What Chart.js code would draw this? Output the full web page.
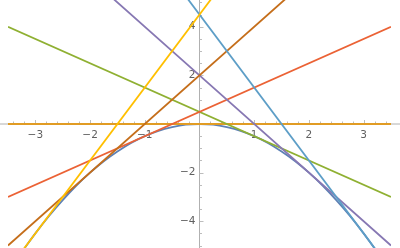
<!DOCTYPE html>
<html lang="en">
<head>
  <meta charset="UTF-8">
  <title>tangent lines</title>
  <style>
    html, body { margin: 0; padding: 0; background: #fff; }
    #wrap { width: 400px; height: 248px; }
  </style>
</head>
<body>
  <div id="wrap"><canvas id="myChart"></canvas></div>
  <script src="https://cdn.jsdelivr.net/npm/chart.js"></script>
  <script>
    // curve y = -x^2/2
    const curveX = [-3.5, -3.25, -3, -2.75, -2.5, -2.25, -2, -1.75, -1.5, -1.25, -1, -0.75, -0.5, -0.25, 0,
                    0.25, 0.5, 0.75, 1, 1.25, 1.5, 1.75, 2, 2.25, 2.5, 2.75, 3, 3.25, 3.5];
    const curveY = [-6.13, -5.28, -4.5, -3.78, -3.13, -2.53, -2, -1.53, -1.13, -0.78, -0.5, -0.28, -0.13, -0.03, 0,
                    -0.03, -0.13, -0.28, -0.5, -0.78, -1.13, -1.53, -2, -2.53, -3.13, -3.78, -4.5, -5.28, -6.13];

    // tangent lines, endpoints at the plot's left and right edges
    const lineX = [-3.5, 3.5];
    const lineY0 = [0, 0];
    const lineY1 = [4, -3];
    const lineYm1 = [-3, 4];
    const lineY2 = [9, -5];
    const lineYm2 = [-5, 9];
    const lineY3 = [15, -6];
    const lineYm3 = [-6, 15];

    const xTicks = [-3, -2, -1, 1, 2, 3];
    const yTicks = [-4, -2, 2, 4];

    const pts = (xs, ys) => xs.map((x, i) => ({ x: x, y: ys[i] }));

    // Mathematica plot order, first one at the bottom
    const series = [
      { data: pts(curveX, curveY), color: '#5E81B5' },
      { data: pts(lineX, lineY0), color: '#E19C24' },
      { data: pts(lineX, lineY1), color: '#8FB032' },
      { data: pts(lineX, lineYm1), color: '#EB6235' },
      { data: pts(lineX, lineY2), color: '#8778B3' },
      { data: pts(lineX, lineYm2), color: '#C56E1A' },
      { data: pts(lineX, lineY3), color: '#5D9EC7' },
      { data: pts(lineX, lineYm3), color: '#FFBF00' }
    ];

    const datasets = series.map((s, i) => ({
      data: s.data,
      showLine: true,
      borderColor: s.color,
      borderWidth: 1.8,
      pointRadius: 0,
      cubicInterpolationMode: 'monotone',
      order: series.length - i
    }));

    const axesPlugin = {
      id: 'axes',
      beforeDatasetsDraw(chart) {
        const c = chart.ctx;
        const sx = chart.scales.x, sy = chart.scales.y;
        const x0 = sx.getPixelForValue(0), y0 = sy.getPixelForValue(0);
        c.save();
        c.strokeStyle = '#b0b0b0';
        c.lineWidth = 1;
        c.beginPath();
        c.moveTo(0, y0); c.lineTo(chart.width, y0);
        c.moveTo(x0, 0); c.lineTo(x0, chart.height);
        c.stroke();

        // ticks
        c.strokeStyle = '#bdbdbd';
        c.beginPath();
        for (let v = -34; v <= 34; v += 2) {
          if (v === 0) continue;
          const px = Math.round(sx.getPixelForValue(v / 10)) + 0.5;
          const len = v % 10 === 0 ? 4 : 2.5;
          c.moveTo(px, y0); c.lineTo(px, y0 - len);
        }
        for (let v = -10; v <= 10; v += 1) {
          if (v === 0) continue;
          const py = Math.round(sy.getPixelForValue(v / 2)) + 0.5;
          const len = v % 4 === 0 ? 4 : 2.5;
          c.moveTo(x0, py); c.lineTo(x0 + len, py);
        }
        c.stroke();

        // labels
        c.fillStyle = '#606060';
        c.font = '10.5px "DejaVu Sans"';
        c.textAlign = 'center';
        c.textBaseline = 'middle';
        xTicks.forEach(v => {
          c.fillText(v < 0 ? '\u2212' + (-v) : String(v), sx.getPixelForValue(v), y0 + 11);
        });
        c.textAlign = 'right';
        yTicks.forEach(v => {
          c.fillText(v < 0 ? '\u2212' + (-v) : String(v), x0 - 4, sy.getPixelForValue(v));
        });
        c.restore();
      }
    };

    const ctx = document.getElementById('myChart');
    new Chart(ctx, {
      type: 'scatter',
      data: { datasets: datasets },
      options: {
        responsive: true,
        maintainAspectRatio: false,
        animation: false,
        layout: { padding: { left: 8, right: 9, top: 0, bottom: 0 } },
        plugins: { legend: { display: false }, tooltip: { enabled: false } },
        scales: {
          x: { type: 'linear', min: -3.5, max: 3.5, display: false },
          y: { type: 'linear', min: -5.1, max: 5.1, display: false }
        }
      },
      plugins: [axesPlugin]
    });
  </script>
</body>
</html>
